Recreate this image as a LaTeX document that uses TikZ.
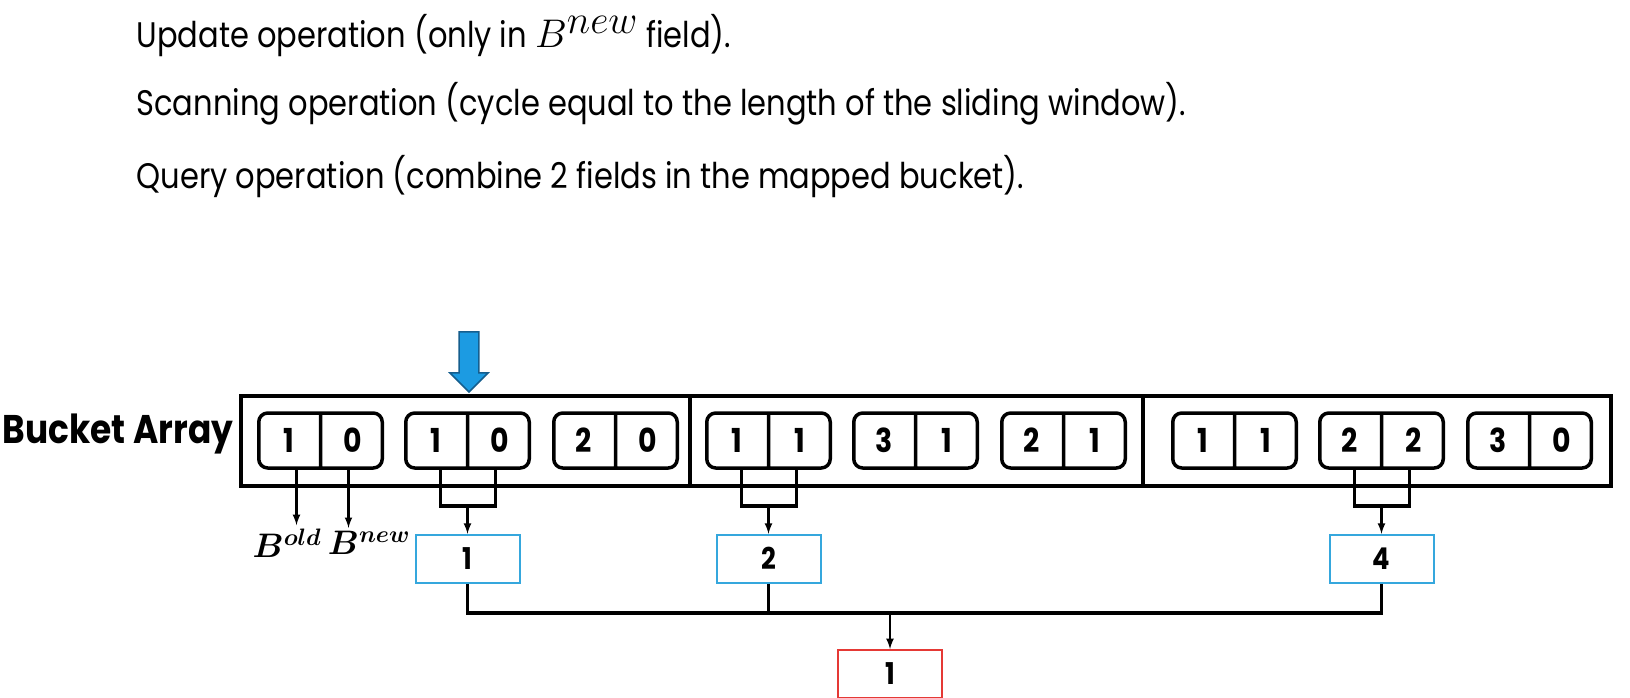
\documentclass[tikz,border=0pt]{standalone}
\usepackage{fix-cm}
\usepackage{amsmath}
\usepackage{amssymb}
\usepackage{fontspec}
\setmainfont{Poppins}[FakeStretch=0.86]
\usepackage{xcolor}
\definecolor{pale-blue}{HTML}{35A7DD}
\definecolor{ptr-blue}{HTML}{1C9BE2}
\definecolor{ptr-edge}{HTML}{155E8E}
\definecolor{hit-red}{HTML}{E53935}
\usepackage{tikz}
\usetikzlibrary{positioning}
\usetikzlibrary{shapes.multipart}
\usetikzlibrary{shapes.arrows}
\tikzset{bucket/.style = {draw, rounded corners=9pt, line width=3.5pt, rectangle split, rectangle split horizontal, rectangle split parts=2, text width=60pt, align=center, inner xsep=0pt, minimum height=55pt, font=\fontsize{33}{33}\selectfont\bfseries}}
\tikzset{result/.style = {draw=pale-blue, line width=2pt, minimum width=104pt, minimum height=48pt, font=\fontsize{30}{30}\selectfont\bfseries}}
\tikzset{frame/.style = {line width=3.5pt}}
\tikzset{arr/.style = {line width=2.5pt, -latex}}

\begin{document}
\begin{tikzpicture}[x=1pt, y=-1pt,
  font=\fontsize{35.5}{40}\selectfont
]

\useasboundingbox (0,0) rectangle (1630,697);
\clip (0,0) rectangle (1630,697);

\node[anchor=west, inner ysep=0pt] (t1) at (133,36) {Update operation (only in {\fontsize{40}{40}\selectfont$B^{\textstyle new}$} field).};
\node[anchor=west, inner ysep=0pt] (t2) at (133,104) {Scanning operation (cycle equal to the length of the sliding window).};
\node[anchor=west, inner ysep=0pt] (t3) at (133,177) {Query operation (combine 2 fields in the mapped bucket).};

\node[font=\fontsize{40}{40}\selectfont\bfseries] (lbl) at (118,434) {Bucket Array};
\node[draw, frame, minimum width=1370pt, minimum height=90pt, inner sep=0pt] (arr) at (926,441) {};
\draw[frame] (690,396) -- (690,486);
\draw[frame] (1143,396) -- (1143,486);

\node[bucket] (k1) at (320.5,440.5) {1 \nodepart{two} 0};
\node[bucket] (k2) at (467.5,440.5) {1 \nodepart{two} 0};
\node[bucket] (k3) at (615.5,440.5) {2 \nodepart{two} 0};
\node[bucket] (k4) at (768.5,440.5) {1 \nodepart{two} 1};
\node[bucket] (k5) at (915.5,440.5) {3 \nodepart{two} 1};
\node[bucket] (k6) at (1063.5,440.5) {2 \nodepart{two} 1};
\node[bucket] (k7) at (1234.5,440.5) {1 \nodepart{two} 1};
\node[bucket] (k8) at (1381.5,440.5) {2 \nodepart{two} 2};
\node[bucket] (k9) at (1529.5,440.5) {3 \nodepart{two} 0};

% scan pointer
\node[single arrow, shape border rotate=270, fill=ptr-blue, draw=ptr-edge, line width=1.5pt, minimum height=60pt, minimum width=38pt, inner sep=9pt, single arrow head extend=9pt, anchor=tip] (ptr) at (469,393) {};

\node[font=\fontsize{34}{34}\selectfont] (bo) at (287,543) {$\boldsymbol{B^{old}}$};
\node[font=\fontsize{34}{34}\selectfont] (bn) at (369,543) {$\boldsymbol{B^{new}}$};
\draw[arr] ([xshift=-24pt]k1.south) -- ([xshift=-24pt]k1.south |- bo.north);
\draw[arr] ([xshift=28pt]k1.south) -- ([xshift=28pt]k1.south |- bn.north);

\node[result, below=64pt of k2] (r1) {1};
\node[result, below=64pt of k4] (r2) {2};
\node[result, below=64pt of k8] (r4) {4};

\draw[frame] ([xshift=-27pt]k2.south) -- ++(0,36) -| ([xshift=28pt]k2.south);
\draw[arr]  ([yshift=-36pt]k2.south) -- (r1);
\draw[frame] ([xshift=-27pt]k4.south) -- ++(0,36) -| ([xshift=28pt]k4.south);
\draw[arr]  ([yshift=-36pt]k4.south) -- (r2);
\draw[frame] ([xshift=-27pt]k8.south) -- ++(0,36) -| ([xshift=28pt]k8.south);
\draw[arr]  ([yshift=-36pt]k8.south) -- (r4);

\node[result, draw=hit-red] (q) at (890,674) {1};
\coordinate (j) at (890,613);
\draw[frame] (r1.south) |- (j) -| (r4.south);
\draw[frame] (r2.south) -- (r2.south |- j);
\draw[arr]  (j) -- (q);

\end{tikzpicture}
\end{document}
